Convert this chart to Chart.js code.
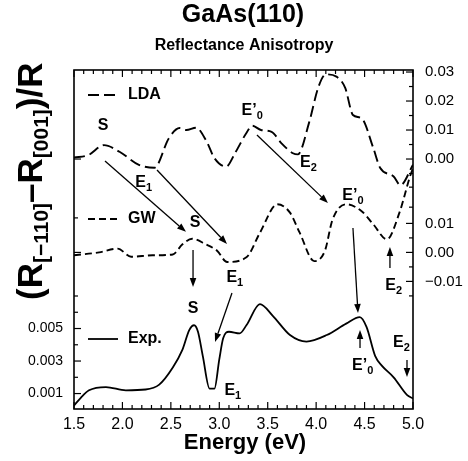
<!DOCTYPE html>
<html>
<head>
<meta charset="utf-8">
<script src="https://cdn.jsdelivr.net/npm/chart.js@4.4.1/dist/chart.umd.min.js"></script>
<style>
  html, body { margin: 0; padding: 0; background: #fff; }
  #wrap { width: 468px; height: 461px; }
</style>
</head>
<body>
<div id="wrap"><canvas id="rad" width="468" height="461"></canvas></div>
<script>
// values (energy in eV, anisotropy dR/R)
const ldaE = [1.50, 1.65, 1.81, 1.97, 2.17, 2.33, 2.48, 2.59, 2.66, 2.76, 2.87, 2.95, 3.07, 3.17, 3.28, 3.34, 3.43, 3.54, 3.64, 3.76, 3.81, 3.93, 4.02, 4.10, 4.21, 4.30, 4.38, 4.47, 4.59, 4.66, 4.80, 4.87, 5.00];
const ldaV = [0.0005, 0.0014, 0.0048, 0.0025, -0.0020, -0.0030, 0.0072, 0.0107, 0.0100, 0.0108, 0.0060, 0.0003, -0.0026, 0.0025, 0.0090, 0.0115, 0.0100, 0.0094, 0.0055, 0.0020, 0.0016, 0.0129, 0.0245, 0.0292, 0.0284, 0.0245, 0.0152, 0.0140, 0.0038, -0.0030, -0.0060, -0.0090, -0.0020];

const gwE = [1.50, 1.76, 1.95, 2.09, 2.31, 2.52, 2.62, 2.72, 2.86, 2.98, 3.08, 3.28, 3.42, 3.60, 3.73, 3.83, 3.98, 4.09, 4.17, 4.31, 4.47, 4.59, 4.73, 4.86, 4.97, 5.00];
const gwV = [-0.0010, 0.0000, 0.0013, -0.0015, -0.0010, -0.0007, 0.0028, 0.0047, 0.0028, 0.0005, -0.0033, -0.0017, 0.0068, 0.0166, 0.0137, 0.0068, -0.0030, 0.0005, 0.0114, 0.0166, 0.0142, 0.0097, 0.0045, 0.0137, 0.0263, 0.0290];

const expE = [1.50, 1.57, 1.655, 1.83, 2.035, 2.24, 2.38, 2.52, 2.62, 2.69, 2.74, 2.78, 2.83, 2.90, 2.95, 3.00, 3.04, 3.10, 3.21, 3.28, 3.42, 3.55, 3.73, 3.90, 4.11, 4.31, 4.45, 4.52, 4.61, 4.68, 4.80, 4.94, 5.00];
const expV = [0.00026, 0.00074, 0.0012, 0.0014, 0.0012, 0.00125, 0.00155, 0.0026, 0.0037, 0.0049, 0.0052, 0.0048, 0.0033, 0.0013, 0.0013, 0.0031, 0.0044, 0.0048, 0.0047, 0.0052, 0.0065, 0.0058, 0.0046, 0.0042, 0.0046, 0.0053, 0.0057, 0.0051, 0.0033, 0.0027, 0.0020, 0.0009, 0.0007];

const xTicks = [1.5, 2.0, 2.5, 3.0, 3.5, 4.0, 4.5, 5.0];
const ldaTicks = [0.03, 0.02, 0.01, 0.00];
const gwTicks = [0.01, 0.00, -0.01];
const expTicks = [0.001, 0.003, 0.005];

// GW panel sits below LDA on the shared right axis
const GW_SHIFT = -0.0322;

// peak labels: [energy, right-axis value, text, subscript]
const peakLabels = [
  [1.80, 0.0117, "S", ""],
  [2.22, -0.0079, "E", "1"],
  [3.34, 0.0169, "E\u2019", "0"],
  [3.92, -0.0010, "E", "2"],
  [2.75, -0.0217, "S", ""],
  [3.16, -0.0407, "E", "1"],
  [4.38, -0.0124, "E\u2019", "0"],
  [4.80, -0.0434, "E", "2"],
  [2.73, -0.0514, "S", ""],
  [3.14, -0.0797, "E", "1"],
  [4.48, -0.0710, "E\u2019", "0"],
  [4.88, -0.0631, "E", "2"]
];
// arrows: [E from, r from, E to, r to]
const arrows = [
  [1.82, -0.0007, 2.656, -0.0251],
  [2.357, -0.0038, 3.08, -0.0293],
  [3.389, 0.0083, 4.122, -0.0152],
  [2.729, -0.0314, 2.729, -0.0441],
  [3.131, -0.0462, 2.956, -0.0631],
  [4.38, -0.0238, 4.432, -0.0531],
  [4.762, -0.0376, 4.762, -0.0303],
  [4.453, -0.0652, 4.453, -0.0590],
  [4.938, -0.0693, 4.938, -0.0752]
];

const FONT = "'Liberation Sans', Arial, Helvetica, sans-serif";
Chart.defaults.font.family = FONT;
Chart.defaults.color = "#000";

const rightValues = ldaTicks.concat(gwTicks.map((v) => v + GW_SHIFT));
const rightLabels = ldaTicks.concat(gwTicks).map((v) => {
  const s = Math.abs(v).toFixed(2);
  return v < -1e-9 ? "\u2212" + s : s;
});

function line(ctx, x1, y1, x2, y2) {
  ctx.beginPath();
  ctx.moveTo(x1, y1);
  ctx.lineTo(x2, y2);
  ctx.stroke();
}

function drawArrow(ctx, x1, y1, x2, y2) {
  const ang = Math.atan2(y2 - y1, x2 - x1);
  const hl = 9, hw = 3.3;
  const bx = x2 - hl * Math.cos(ang), by = y2 - hl * Math.sin(ang);
  line(ctx, x1, y1, bx, by);
  ctx.beginPath();
  ctx.moveTo(x2, y2);
  ctx.lineTo(bx + hw * Math.sin(ang), by - hw * Math.cos(ang));
  ctx.lineTo(bx - hw * Math.sin(ang), by + hw * Math.cos(ang));
  ctx.closePath();
  ctx.fill();
}

function drawPeak(ctx, x, y, main, sub) {
  ctx.font = "bold 16px " + FONT;
  const w1 = ctx.measureText(main).width;
  ctx.font = "bold 11px " + FONT;
  const w2 = sub ? ctx.measureText(sub).width : 0;
  const x0 = x - (w1 + w2) / 2;
  const base = y + 5;
  ctx.textAlign = "left";
  ctx.textBaseline = "alphabetic";
  ctx.font = "bold 16px " + FONT;
  ctx.fillText(main, x0, base);
  if (sub) {
    ctx.font = "bold 11px " + FONT;
    ctx.fillText(sub, x0 + w1, base + 4);
  }
}

const decor = {
  id: "decor",
  afterDatasetsDraw(chart) {
    const ctx = chart.ctx;
    const a = chart.chartArea;
    const xs = chart.scales.x, yl = chart.scales.yExp, yr = chart.scales.yR;
    ctx.save();
    ctx.strokeStyle = "#000";
    ctx.fillStyle = "#000";

    // frame and inward ticks
    ctx.lineWidth = 1.6;
    ctx.strokeRect(a.left, a.top, a.right - a.left, a.bottom - a.top);
    ctx.lineWidth = 1.2;
    for (let k = 15; k <= 50; k++) {
      const px = xs.getPixelForValue(k / 10);
      const len = k % 5 === 0 ? 7 : 4;
      line(ctx, px, a.bottom, px, a.bottom - len);
      line(ctx, px, a.top, px, a.top + len);
    }
    expTicks.forEach((v) => line(ctx, a.left, yl.getPixelForValue(v), a.left + 7, yl.getPixelForValue(v)));
    [0.002, 0.004, 0.006, 0.007].forEach((v) => line(ctx, a.left, yl.getPixelForValue(v), a.left + 4, yl.getPixelForValue(v)));
    [0, GW_SHIFT].forEach((v) => line(ctx, a.left, yr.getPixelForValue(v), a.left + 7, yr.getPixelForValue(v)));
    line(ctx, a.left, yr.getPixelForValue(-0.0203), a.left + 4, yr.getPixelForValue(-0.0203));
    rightValues.forEach((v) => line(ctx, a.right, yr.getPixelForValue(v), a.right - 7, yr.getPixelForValue(v)));
    [0.025, 0.015, 0.005, -0.005, -0.0097, -0.0166]
      .concat([0.005, -0.005, -0.015].map((v) => v + GW_SHIFT))
      .forEach((v) => line(ctx, a.right, yr.getPixelForValue(v), a.right - 4, yr.getPixelForValue(v)));

    // arrows
    ctx.lineWidth = 1.3;
    arrows.forEach(([e1, r1, e2, r2]) =>
      drawArrow(ctx, xs.getPixelForValue(e1), yr.getPixelForValue(r1), xs.getPixelForValue(e2), yr.getPixelForValue(r2)));

    // peak labels
    peakLabels.forEach(([e, r, m, s]) => drawPeak(ctx, xs.getPixelForValue(e), yr.getPixelForValue(r), m, s));

    // legend, samples use the dataset styles
    const legendY = [95, 219, 339];
    chart.data.datasets.forEach((ds, i) => {
      const y = legendY[i];
      ctx.lineWidth = ds.borderWidth;
      ctx.setLineDash(ds.borderDash || []);
      line(ctx, 88, y, 118, y);
      ctx.setLineDash([]);
      ctx.font = "bold 16px " + FONT;
      ctx.textAlign = "left";
      ctx.textBaseline = "middle";
      ctx.fillText(ds.label, 128, y);
    });

    // titles
    ctx.textAlign = "center";
    ctx.textBaseline = "alphabetic";
    ctx.font = "bold 25px " + FONT;
    ctx.fillText("GaAs(110)", 243, 22);
    ctx.font = "bold 16px " + FONT;
    ctx.fillText("Reflectance Anisotropy", 244, 50);
    ctx.font = "bold 22px " + FONT;
    ctx.fillText("Energy (eV)", 245, 449);

    // rotated y title with subscripts
    const parts = [["(R", 0], ["[\u2212110]", 1], ["\u2013R", 0], ["[001]", 1], [")/R", 0]];
    const big = 28, small = 17;
    let total = 0;
    parts.forEach(([t, s]) => {
      ctx.font = "bold " + (s ? small : big) + "px " + FONT;
      total += ctx.measureText(t).width;
    });
    const k = 238 / total;
    ctx.rotate(-Math.PI / 2);
    ctx.textAlign = "left";
    let u = -300;
    parts.forEach(([t, s]) => {
      ctx.font = "bold " + Math.round((s ? small : big) * k) + "px " + FONT;
      ctx.fillText(t, u, s ? 48 : 42);
      u += ctx.measureText(t).width;
    });
    ctx.restore();
  }
};

new Chart(document.getElementById("rad"), {
  type: "line",
  data: {
    datasets: [
      {
        label: "LDA",
        data: ldaE.map((e, i) => ({ x: e, y: ldaV[i] })),
        yAxisID: "yR",
        borderColor: "#000",
        borderWidth: 1.9,
        borderDash: [11, 5]
      },
      {
        label: "GW",
        data: gwE.map((e, i) => ({ x: e, y: gwV[i] + GW_SHIFT })),
        yAxisID: "yR",
        borderColor: "#000",
        borderWidth: 1.9,
        borderDash: [7, 4]
      },
      {
        label: "Exp.",
        data: expE.map((e, i) => ({ x: e, y: expV[i] })),
        yAxisID: "yExp",
        borderColor: "#000",
        borderWidth: 1.8
      }
    ]
  },
  options: {
    responsive: false,
    animation: false,
    layout: { padding: { top: 70, left: 0, right: 0, bottom: 0 } },
    elements: { point: { radius: 0 }, line: { cubicInterpolationMode: "monotone", fill: false } },
    plugins: { legend: { display: false }, tooltip: { enabled: false } },
    scales: {
      x: {
        type: "linear",
        min: 1.5,
        max: 5.0,
        afterFit: (s) => { s.height = 52; },
        afterBuildTicks: (s) => { s.ticks = xTicks.map((v) => ({ value: v })); },
        grid: { display: false, drawTicks: false },
        border: { display: false },
        ticks: { callback: (v) => Number(v).toFixed(1), font: { size: 16 }, padding: 6, maxRotation: 0, autoSkip: false }
      },
      yExp: {
        position: "left",
        min: 0.00005,
        max: 0.0209,
        afterFit: (s) => { s.width = 74; },
        afterBuildTicks: (s) => { s.ticks = expTicks.map((v) => ({ value: v })); },
        grid: { display: false, drawTicks: false },
        border: { display: false },
        ticks: { callback: (v) => Number(v).toFixed(3), font: { size: 14 }, padding: 11, autoSkip: false }
      },
      yR: {
        position: "right",
        min: -0.0862,
        max: 0.0307,
        afterFit: (s) => { s.width = 55; },
        afterBuildTicks: (s) => { s.ticks = rightValues.map((v) => ({ value: v })); },
        grid: { display: false, drawTicks: false },
        border: { display: false },
        ticks: { callback: (v, i) => rightLabels[i], font: { size: 15 }, padding: 12, autoSkip: false }
      }
    }
  },
  plugins: [decor]
});
</script>
</body>
</html>
